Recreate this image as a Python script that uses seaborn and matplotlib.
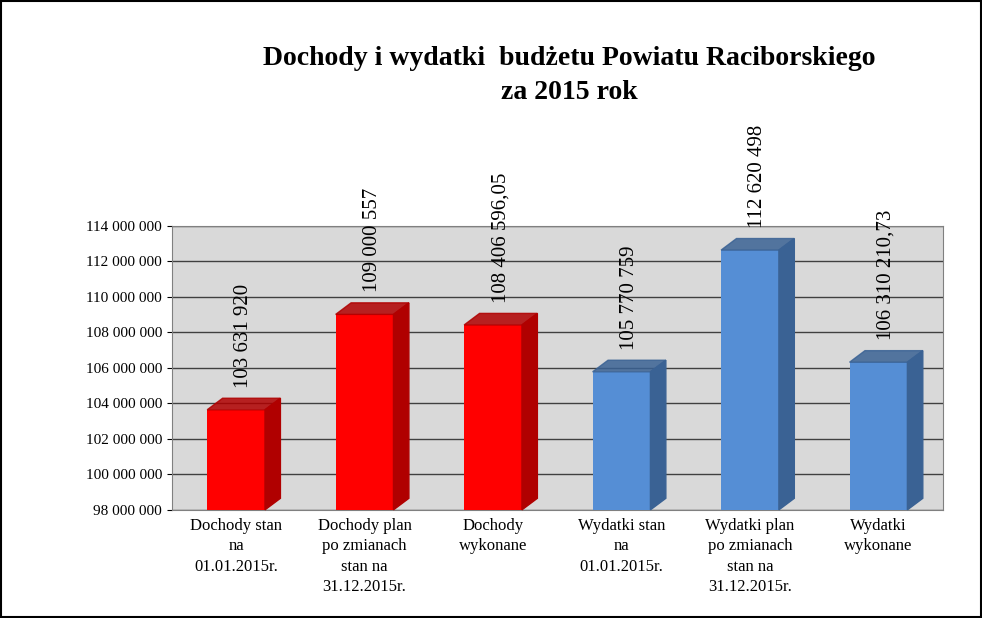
import matplotlib
matplotlib.use("Agg")
import matplotlib.pyplot as plt
import seaborn as sns
import pandas as pd
from matplotlib.patches import Polygon, Rectangle

categories = ["Dochody stan\nna\n01.01.2015r.", "Dochody plan\npo zmianach\nstan na\n31.12.2015r.",
              "Dochody\nwykonane", "Wydatki stan\nna\n01.01.2015r.",
              "Wydatki plan\npo zmianach\nstan na\n31.12.2015r.", "Wydatki\nwykonane"]
values = [103631920, 109000557, 108406596.05, 105770759, 112620498, 106310210.73]
value_labels = ["103 631 920", "109 000 557", "108 406 596,05", "105 770 759", "112 620 498", "106 310 210,73"]
colors = ["#ff0000", "#ff0000", "#ff0000", "#558ed5", "#558ed5", "#558ed5"]
side_colors = ["#b00000", "#b00000", "#b00000", "#3a6294", "#3a6294", "#3a6294"]
yticks = list(range(98000000, 114000001, 2000000))

plt.rcParams["font.family"] = "Liberation Serif"
fig = plt.figure(figsize=(9.82, 6.18), dpi=100)
fig.patches.append(Rectangle((0.001, 0.001), 0.998, 0.998, transform=fig.transFigure,
                             fill=False, edgecolor="black", lw=1.5))
ax = fig.add_axes([0.175, 0.175, 0.785, 0.46])
ax.set_facecolor("#d9d9d9")
df = pd.DataFrame({"cat": categories, "val": values})
base = 98000000
df["h"] = df["val"] - base
sns.barplot(data=df, x="cat", y="h", hue="cat", palette=colors, legend=False,
            width=0.45, ax=ax, bottom=base, saturation=1, zorder=3)
ax.set_ylim(base, 114000000)
ax.set_xlim(-0.5, 5.5)
ax.set_yticks(yticks)
ax.set_yticklabels([f"{v:,}".replace(",", " ") for v in yticks], fontsize=11)
ax.tick_params(axis="x", labelsize=12, length=0, pad=6)
for t in ax.get_xticklabels():
    t.set_linespacing(1.35)
ax.set_xlabel(""); ax.set_ylabel("")
ax.grid(axis="y", color="#404040", lw=1, zorder=0)
for s in ax.spines.values():
    s.set_color("#808080")
dx, dy = 0.12, 650000
for p, sc, lab in zip(ax.patches, side_colors, value_labels):
    x, w, top = p.get_x(), p.get_width(), p.get_y() + p.get_height()
    ax.add_patch(Polygon([(x + w, base), (x + w + dx, base + dy), (x + w + dx, top + dy), (x + w, top)],
                         closed=True, color=sc, zorder=3, clip_on=False))
    ax.add_patch(Polygon([(x, top), (x + dx, top + dy), (x + w + dx, top + dy), (x + w, top)],
                         closed=True, color=sc, zorder=3, clip_on=False, alpha=0.85))
    ax.text(x + w / 2 + dx / 2, top + dy + 600000, lab, rotation=90, ha="center", va="bottom",
            fontsize=15, clip_on=False)
fig.text(0.58, 0.895, "Dochody i wydatki  budżetu Powiatu Raciborskiego", ha="center",
         fontsize=20, fontweight="bold")
fig.text(0.58, 0.84, "za 2015 rok", ha="center", fontsize=20, fontweight="bold")
fig.savefig("out.png", dpi=100)
